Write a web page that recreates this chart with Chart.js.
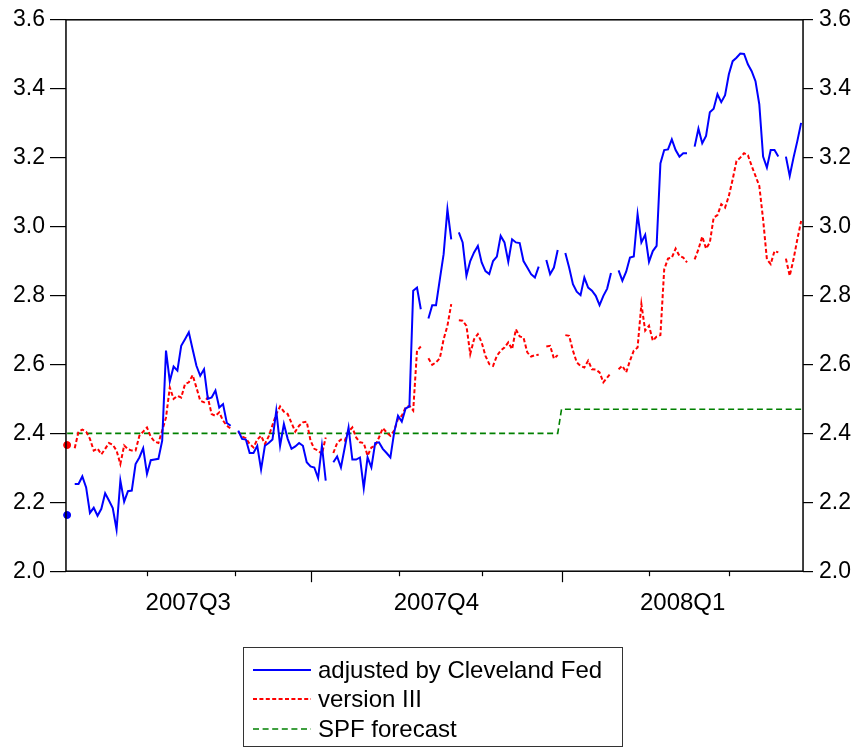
<!DOCTYPE html>
<html>
<head>
<meta charset="utf-8">
<script src="https://cdn.jsdelivr.net/npm/chart.js@4/dist/chart.umd.min.js"></script>
<style>
html, body { margin: 0; padding: 0; background: #fff; }
#wrap { position: relative; width: 862px; height: 749px; }
#legend {
    position: absolute; left: 243px; top: 647px; width: 380px; height: 100px;
    box-sizing: border-box; border: 1.5px solid #333; padding: 7px 0 0 9px;
    font: 24px "Liberation Sans", Arial, sans-serif; color: #000;
}
.row { height: 29.5px; display: flex; align-items: center; white-space: nowrap; }
.row svg { margin-right: 7px; flex: none; }
</style>
</head>
<body>
<div id="wrap">
    <canvas id="chart" width="862" height="749"></canvas>
    <div id="legend"></div>
</div>
<script>
// Daily observations (trading days), Jul 2007 - Mar 2008; null = no quote that day
const clevelandFed = [
    2.163, null, 2.253, 2.253, 2.275, 2.243, 2.169, 2.184, 2.161, 2.181,
    2.226, 2.205, 2.183, 2.121, 2.263, 2.202, 2.232, 2.234, 2.311, 2.330,
    2.357, 2.282, 2.322, 2.324, 2.326, 2.379, 2.640, 2.551, 2.594, 2.582,
    2.654, 2.673, 2.693, 2.644, 2.596, 2.567, 2.586, 2.500, 2.504, 2.524,
    2.475, 2.485, 2.430, 2.422, null, 2.408, 2.384, 2.382, 2.343, 2.343,
    2.364, 2.295, 2.364, 2.372, 2.382, 2.466, 2.364, 2.427, 2.384, 2.355,
    2.362, 2.372, 2.364, 2.316, 2.304, 2.301, 2.270, 2.364, 2.263, null,
    2.316, 2.333, 2.301, 2.359, 2.417, 2.324, 2.324, 2.330, 2.241, 2.330,
    2.301, 2.372, 2.374, 2.355, 2.343, 2.330, 2.403, 2.451, 2.434, 2.472,
    2.478, 2.814, 2.823, 2.760, null, 2.733, 2.772, 2.772, 2.847, 2.920,
    3.050, 2.963, null, 2.983, 2.954, 2.857, 2.900, 2.925, 2.944, 2.896,
    2.871, 2.862, 2.900, 2.913, 2.973, 2.954, 2.898, 2.963, 2.954, 2.952,
    2.900, 2.881, 2.862, 2.852, 2.884, null, 2.903, 2.862, 2.881, 2.932,
    null, 2.923, 2.881, 2.833, 2.811, 2.801, 2.852, 2.823, 2.814, 2.799,
    2.772, 2.799, 2.820, 2.865, null, 2.873, 2.843, 2.869, 2.910, 2.913,
    3.036, 2.954, 2.976, 2.898, 2.929, 2.944, 3.183, 3.222, 3.224, 3.253,
    3.222, 3.203, 3.213, 3.213, null, 3.232, 3.284, 3.242, 3.263, 3.332,
    3.342, 3.384, 3.361, 3.381, 3.442, 3.480, 3.490, 3.502, 3.501, 3.471,
    3.451, 3.422, 3.355, 3.203, 3.171, 3.222, 3.222, 3.203, null, 3.203,
    3.147, 3.200, 3.248, 3.301
];
const versionIII = [
    2.366, null, 2.357, 2.405, 2.411, 2.405, 2.384, 2.350, 2.356, 2.339,
    2.355, 2.372, 2.367, 2.350, 2.311, 2.365, 2.354, 2.350, 2.350, 2.393,
    2.405, 2.417, 2.390, 2.376, 2.372, 2.408, 2.446, 2.533, 2.500, 2.509,
    2.504, 2.543, 2.548, 2.569, 2.533, 2.495, 2.490, 2.504, 2.456, 2.451,
    2.461, 2.437, 2.422, 2.414, null, 2.405, 2.391, 2.386, 2.369, 2.359,
    2.382, 2.393, 2.369, 2.391, 2.424, 2.456, 2.478, 2.463, 2.456, 2.430,
    2.405, 2.422, 2.432, 2.434, 2.379, 2.355, 2.350, 2.340, 2.388, null,
    2.343, 2.372, 2.382, 2.379, 2.405, 2.417, 2.388, 2.374, 2.372, 2.335,
    2.359, 2.364, 2.388, 2.415, 2.403, 2.393, 2.408, 2.442, 2.451, 2.475,
    2.480, 2.466, 2.640, 2.652, null, 2.618, 2.599, 2.606, 2.618, 2.673,
    2.712, 2.775, null, 2.728, 2.727, 2.712, 2.630, 2.673, 2.688, 2.664,
    2.625, 2.601, 2.596, 2.625, 2.640, 2.649, 2.664, 2.644, 2.702, 2.681,
    2.678, 2.635, 2.623, 2.627, 2.628, null, 2.652, 2.654, 2.617, 2.627,
    null, 2.685, 2.683, 2.640, 2.606, 2.596, 2.591, 2.611, 2.586, 2.585,
    2.577, 2.548, 2.562, 2.575, null, 2.586, 2.596, 2.577, 2.611, 2.640,
    2.649, 2.775, 2.698, 2.712, 2.669, 2.681, 2.685, 2.876, 2.907, 2.910,
    2.936, 2.915, 2.910, 2.896, null, 2.905, 2.934, 2.971, 2.936, 2.954,
    3.026, 3.033, 3.065, 3.055, 3.089, 3.137, 3.190, 3.200, 3.213, 3.207,
    3.176, 3.147, 3.118, 3.021, 2.905, 2.891, 2.929, 2.925, null, 2.907,
    2.857, 2.905, 2.963, 3.016
];
// SPF forecast is a step: one value per quarter
const spfDays = [0, 129, 130, 193];
const spfValues = [2.40, 2.40, 2.47, 2.47];

// Axis: observation index; quarter boundaries and month boundaries
const quarterLabels = ['2007Q3', '2007Q4', '2008Q1'];
const quarterBounds = [-0.3, 64.0, 130.2, 193.5];
const monthTicks = [21.0, 44.1, 87.2, 109.2, 153.1, 174.1];
const yTicks = [2.0, 2.2, 2.4, 2.6, 2.8, 3.0, 3.2, 3.4, 3.6];

const quarterCenters = quarterLabels.map((_, i) => (quarterBounds[i] + quarterBounds[i + 1]) / 2);
const toPoints = vals => vals.map((v, i) => ({ x: i, y: v }));

// a lone observation with no neighbours is shown as a dot
function loneDot(ctx) {
    const d = ctx.dataset.data;
    const i = ctx.dataIndex;
    if (!d[i] || d[i].y === null) return 0;
    const prev = i > 0 ? d[i - 1].y : null;
    const next = i < d.length - 1 ? d[i + 1].y : null;
    return (prev === null && next === null) ? 3.5 : 0;
}

const FONT = "'Liberation Sans', Arial, sans-serif";
Chart.defaults.font.family = FONT;
Chart.defaults.color = '#000';

// frame around the plot + month / quarter tick marks
const framePlugin = {
    id: 'frame',
    afterDraw(chart) {
        const { ctx, chartArea: a } = chart;
        const x = chart.scales.x;
        ctx.save();
        ctx.strokeStyle = '#000';
        ctx.lineWidth = 1.5;
        ctx.strokeRect(a.left, a.top, a.right - a.left, a.bottom - a.top);
        ctx.lineWidth = 1.2;
        const mark = (v, len) => {
            const px = Math.round(x.getPixelForValue(v)) + 0.5;
            ctx.beginPath();
            ctx.moveTo(px, a.bottom);
            ctx.lineTo(px, a.bottom + len);
            ctx.stroke();
        };
        monthTicks.forEach(v => mark(v, 5));
        quarterBounds.slice(1, -1).forEach(v => mark(v, 11));
        ctx.restore();
    }
};

const yAxis = (position, tickLength, padding) => ({
    type: 'linear',
    position: position,
    min: 2.0,
    max: 3.6,
    afterBuildTicks: scale => { scale.ticks = yTicks.map(v => ({ value: v })); },
    ticks: {
        font: { size: 23 },
        padding: padding,
        callback: v => v.toFixed(1)
    },
    grid: { drawOnChartArea: false, drawTicks: true, tickLength: tickLength, color: '#000', lineWidth: 1.2 },
    border: { display: false }
});

const chart = new Chart(document.getElementById('chart'), {
    type: 'line',
    data: {
        datasets: [
            {
                label: 'adjusted by Cleveland Fed',
                data: toPoints(clevelandFed),
                borderColor: '#0000ff',
                backgroundColor: '#0000ff',
                borderWidth: 2,
                pointRadius: loneDot,
                pointBorderWidth: 1,
                pointBorderColor: '#0000ff',
                pointBackgroundColor: '#0000ff',
                clip: false,
                yAxisID: 'y'
            },
            {
                label: 'version III',
                data: toPoints(versionIII),
                borderColor: '#ff0000',
                backgroundColor: '#ff0000',
                borderWidth: 2,
                borderDash: [4, 2.4],
                pointRadius: loneDot,
                pointBorderWidth: 1,
                pointBorderColor: '#ff0000',
                pointBackgroundColor: '#ff0000',
                clip: false,
                yAxisID: 'y'
            },
            {
                label: 'SPF forecast',
                data: spfDays.map((d, i) => ({ x: d, y: spfValues[i] })),
                borderColor: '#008000',
                backgroundColor: '#008000',
                borderWidth: 1.6,
                borderDash: [6, 3.6],
                pointRadius: 0,
                yAxisID: 'y'
            }
        ]
    },
    options: {
        responsive: false,
        animation: false,
        devicePixelRatio: 1,
        layout: { padding: { left: 8, right: 5, top: 4, bottom: 113 } },
        elements: { line: { tension: 0 } },
        scales: {
            x: {
                type: 'linear',
                min: quarterBounds[0],
                max: quarterBounds[quarterBounds.length - 1],
                afterBuildTicks: scale => { scale.ticks = quarterCenters.map(v => ({ value: v })); },
                ticks: {
                    font: { size: 24 },
                    padding: 18,
                    autoSkip: false,
                    maxRotation: 0,
                    callback: (v, i) => quarterLabels[i]
                },
                grid: { display: false, drawTicks: false },
                border: { display: false }
            },
            y: yAxis('left', 16, 5),
            y2: yAxis('right', 10, 6)
        },
        plugins: {
            legend: { display: false },
            tooltip: { enabled: false }
        }
    },
    plugins: [framePlugin]
});

// legend box below the plot
const legend = document.getElementById('legend');
chart.data.datasets.forEach(ds => {
    const row = document.createElement('div');
    row.className = 'row';
    const dash = ds.borderDash ? ds.borderDash.join(',') : 'none';
    row.innerHTML = `<svg width="58" height="10"><line x1="0" y1="5" x2="58" y2="5" stroke="${ds.borderColor}" stroke-width="${ds.borderWidth}" stroke-dasharray="${dash}"/></svg><span>${ds.label}</span>`;
    legend.appendChild(row);
});
</script>
</body>
</html>
